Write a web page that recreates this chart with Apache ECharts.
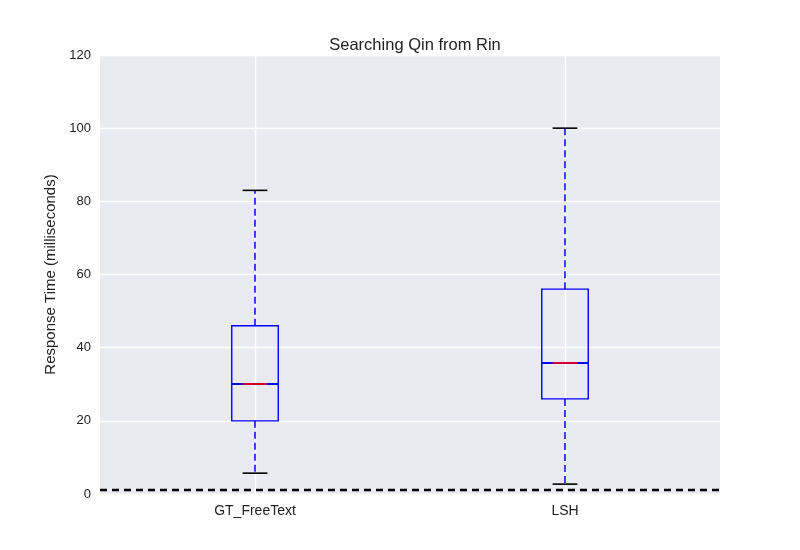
<!DOCTYPE html>
<html>
<head>
<meta charset="utf-8">
<script src="https://cdn.jsdelivr.net/npm/echarts@6/dist/echarts.min.js"></script>
<style>
  html, body { margin: 0; padding: 0; background: #fff; }
  #chart { width: 800px; height: 550px; }
</style>
</head>
<body>
<div id="chart"></div>
<script>
// data
const categories = ['GT_FreeText', 'LSH'];
const whiskerLow = [5.7, 2.7];
const q1 = [20, 26];
const median = [30, 35.8];
const q3 = [46, 56];
const whiskerHigh = [83, 100];
const baseline = 1.1;

const boxData = categories.map((c, i) => [i, whiskerLow[i], q1[i], median[i], q3[i], whiskerHigh[i]]);

const chart = echarts.init(document.getElementById('chart'));

function renderBox(params, api) {
  const x = api.value(0);
  const pLow = api.coord([x, api.value(1)]);
  const pQ1 = api.coord([x, api.value(2)]);
  const pMed = api.coord([x, api.value(3)]);
  const pQ3 = api.coord([x, api.value(4)]);
  const pHigh = api.coord([x, api.value(5)]);
  const band = api.size([1, 0])[0];
  const half = band * 0.075;
  const capHalf = band * 0.04;
  const cx = pMed[0];
  const my = Math.round(pMed[1]);
  const dashed = { stroke: '#0000ff', lineWidth: 1.5, lineDash: [7, 4] };
  return {
    type: 'group',
    children: [
      { type: 'line', shape: { x1: cx, y1: pQ3[1], x2: cx, y2: pHigh[1] }, style: dashed },
      { type: 'line', shape: { x1: cx, y1: pQ1[1], x2: cx, y2: pLow[1] }, style: dashed },
      { type: 'rect', shape: { x: cx - half, y: pQ3[1], width: half * 2, height: pQ1[1] - pQ3[1] },
        style: { fill: 'none', stroke: '#0000ff', lineWidth: 1.4 } },
      { type: 'line', shape: { x1: cx - half, y1: my, x2: cx + half, y2: my },
        style: { stroke: '#0000ff', lineWidth: 2.2 } },
      { type: 'line', shape: { x1: cx - capHalf, y1: my, x2: cx + capHalf, y2: my },
        style: { stroke: '#ff0000', lineWidth: 1.6 } },
      { type: 'line', shape: { x1: cx - capHalf, y1: pHigh[1], x2: cx + capHalf, y2: pHigh[1] },
        style: { stroke: '#000000', lineWidth: 1.6 } },
      { type: 'line', shape: { x1: cx - capHalf, y1: pLow[1], x2: cx + capHalf, y2: pLow[1] },
        style: { stroke: '#000000', lineWidth: 1.6 } }
    ]
  };
}

const option = {
  animation: false,
  backgroundColor: '#ffffff',
  textStyle: { fontFamily: 'Liberation Sans, Arial, sans-serif' },
  title: {
    text: 'Searching Qin from Rin',
    left: 410,
    top: 32,
    textAlign: 'center',
    textStyle: { fontSize: 16.5, fontWeight: 'normal', color: '#222', fontFamily: 'Liberation Sans, Arial, sans-serif' }
  },
  grid: {
    left: 100, right: 80, top: 55, bottom: 56,
    show: true, backgroundColor: '#eaeaf2', borderWidth: 0
  },
  xAxis: {
    type: 'category',
    data: categories,
    boundaryGap: true,
    axisLine: { show: false },
    axisTick: { show: false },
    splitLine: { show: false },
    axisLabel: { color: '#222', fontSize: 14, margin: 10 }
  },
  yAxis: {
    type: 'value',
    min: 0, max: 120, interval: 20,
    name: 'Response Time (milliseconds)',
    nameLocation: 'middle',
    nameGap: 39,
    nameTextStyle: { fontSize: 15, color: '#222' },
    axisLine: { show: false },
    axisTick: { show: false },
    axisLabel: { color: '#222', fontSize: 13, margin: 9 },
    splitLine: { lineStyle: { color: '#ffffff', width: 1.4 } }
  },
  series: [
    {
      type: 'line',
      data: [],
      z: 1,
      markLine: {
        silent: true,
        z: 1,
        symbol: 'none',
        label: { show: false },
        lineStyle: { color: '#ffffff', type: 'solid', width: 1.4 },
        data: categories.map(c => ({ xAxis: c }))
      }
    },
    {
      type: 'custom',
      z: 3,
      renderItem: renderBox,
      encode: { x: 0, y: [1, 2, 3, 4, 5] },
      data: boxData
    },
    {
      type: 'line',
      data: [],
      z: 4,
      markLine: {
        silent: true,
        z: 6,
        symbol: 'none',
        label: { show: false },
        lineStyle: { color: '#000000', type: [7, 5], width: 2.4 },
        data: [{ yAxis: baseline }]
      }
    }
  ]
};

chart.setOption(option);
</script>
</body>
</html>
